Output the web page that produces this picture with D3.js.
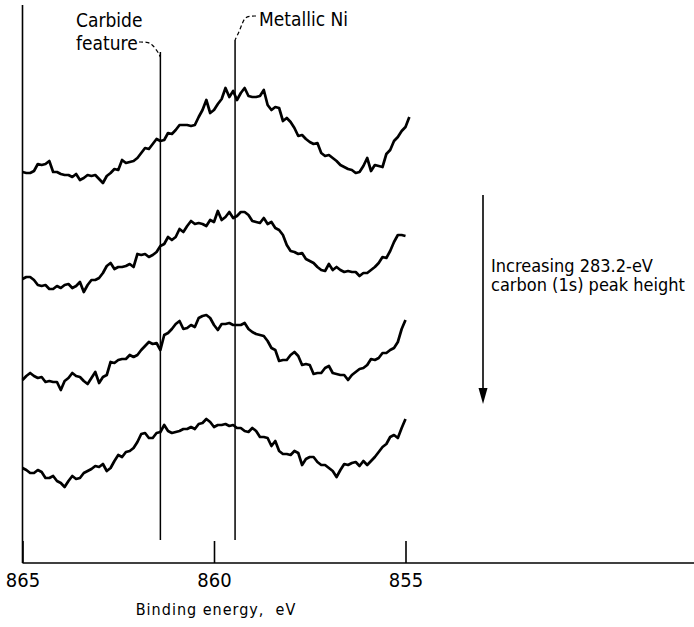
<!DOCTYPE html>
<html>
<head>
<meta charset="utf-8">
<script src="https://cdn.jsdelivr.net/npm/d3@7"></script>
<style>
body { margin: 0; background: #fff; }
text { font-family: "Liberation Sans Narrow", "DejaVu Sans Condensed", "Liberation Sans", sans-serif; fill: #000; }
</style>
</head>
<body>
<script>
//place script in anon function
(function(){

// binding energy of each scan channel (eV)
var energy = [865.0,864.9,864.8,864.7,864.6,864.5,864.4,864.3,864.2,864.1,
    864.0,863.9,863.8,863.7,863.6,863.5,863.4,863.3,863.2,863.1,
    863.0,862.9,862.8,862.7,862.6,862.5,862.4,862.3,862.2,862.1,
    862.0,861.9,861.8,861.7,861.6,861.5,861.4,861.3,861.2,861.1,
    861.0,860.9,860.8,860.7,860.6,860.5,860.4,860.3,860.2,860.1,
    860.0,859.9,859.8,859.7,859.6,859.5,859.4,859.3,859.2,859.1,
    859.0,858.9,858.8,858.7,858.6,858.5,858.4,858.3,858.2,858.1,
    858.0,857.9,857.8,857.7,857.6,857.5,857.4,857.3,857.2,857.1,
    857.0,856.9,856.8,856.7,856.6,856.5,856.4,856.3,856.2,856.1,
    856.0,855.9,855.8,855.7,855.6,855.5,855.4,855.3,855.2,855.1,
    855.0,854.9];

// intensity (arb. units, offset spectra), top to bottom
var spectrum1 = [391,390,390,392,399,398,399,402,391,391,
    389,388,388,386,389,383,385,388,387,388,
    384,380,387,390,394,393,403,400,401,402,
    405,410,415,414,419,424,422,423,430,429,
    433,438,438,438,437,438,446,453,463,450,
    453,459,464,475,466,472,463,470,475,467,
    466,466,467,473,458,453,456,455,442,445,
    441,435,427,428,424,421,419,420,410,407,
    408,405,402,398,396,394,393,390,391,397,
    405,392,398,397,396,409,413,422,426,432,
    436,446];
var spectrum2 = [284,286,286,283,278,277,278,274,274,277,
    275,278,279,275,277,281,271,278,283,283,
    285,290,297,300,294,296,296,297,299,296,
    309,308,309,306,308,311,317,319,326,323,
    326,334,331,337,342,339,340,339,337,343,
    341,352,343,346,351,345,347,351,351,348,
    342,341,340,345,339,341,335,333,328,318,
    312,311,309,310,304,302,300,296,293,292,
    299,293,296,293,291,292,291,291,287,290,
    290,293,296,300,306,305,312,321,328,328,
    327];
var spectrum3 = [183,187,190,187,185,186,181,182,181,181,
    173,182,185,190,187,186,182,179,185,191,
    180,186,188,201,200,203,204,204,208,206,
    208,213,217,221,219,220,213,228,230,234,
    239,242,234,235,238,236,245,247,248,245,
    238,233,239,239,240,238,238,238,240,234,
    231,229,228,227,222,215,213,202,203,203,
    208,211,207,198,199,198,189,190,190,195,
    197,190,189,188,188,183,188,191,194,195,
    198,204,203,205,210,210,213,215,221,234,
    243];
var spectrum4 = [95,93,90,90,93,91,85,85,87,82,
    80,76,82,87,84,85,90,92,94,97,
    96,99,92,95,102,108,106,111,112,115,
    121,129,130,125,125,130,131,138,132,130,
    131,132,134,134,136,134,139,140,144,141,
    136,138,138,139,137,138,135,135,132,131,
    135,132,126,126,125,117,122,112,109,109,
    108,112,110,98,104,106,106,101,98,98,
    95,92,86,93,99,98,100,101,97,102,
    98,102,106,111,116,119,126,128,125,135,
    144];
var spectra = [spectrum1, spectrum2, spectrum3, spectrum4];

// reference lines
var markerEnergy = [861.4, 859.45];
var markerLabels = [["Carbide", "feature"], ["Metallic Ni"]];

// axis
var tickValues = [865, 860, 855];
var axisTitle = "Binding energy,  eV";
var arrowLabel = ["Increasing 283.2-eV", "carbon (1s) peak height"];

// frame dimensions
var width = 694,
    height = 627,
    axisY = 563,
    axisTop = 5;

var svg = d3.select("body")
    .append("svg")
    .attr("width", width)
    .attr("height", height);

// scales
var x = d3.scaleLinear()
    .domain([865, 855])
    .range([22.5, 405.5]);

var y = d3.scaleLinear()
    .domain([0, 558])
    .range([axisY, axisTop]);

// bottom axis with upward ticks
var xAxis = d3.axisBottom(x)
    .tickValues(tickValues)
    .tickFormat(d3.format("d"))
    .tickSizeInner(-22)
    .tickSizeOuter(0)
    .tickPadding(10);

var axisG = svg.append("g")
    .attr("class", "axis")
    .attr("transform", "translate(0," + axisY + ")")
    .call(xAxis);

axisG.select(".domain").remove();
axisG.selectAll("line")
    .attr("stroke", "#000")
    .attr("stroke-width", 1.6);
axisG.selectAll("text")
    .attr("fill", "#000")
    .style("font-size", "20px");

// baseline runs to the right edge
svg.append("line")
    .attr("x1", x(865))
    .attr("x2", width)
    .attr("y1", axisY)
    .attr("y2", axisY)
    .attr("stroke", "#000")
    .attr("stroke-width", 1.6);

// left axis line
svg.append("line")
    .attr("x1", x(865))
    .attr("x2", x(865))
    .attr("y1", axisTop)
    .attr("y2", axisY)
    .attr("stroke", "#000")
    .attr("stroke-width", 1.6);

// axis title
svg.append("text")
    .attr("x", x(860) + 2)
    .attr("y", 615)
    .attr("text-anchor", "middle")
    .style("font-size", "16px")
    .style("letter-spacing", "1px")
    .style("white-space", "pre")
    .text(axisTitle);

// marker lines
var markerTop = [52, 40];
svg.selectAll(".marker")
    .data(markerEnergy)
    .enter()
    .append("line")
    .attr("class", "marker")
    .attr("x1", function(d){ return x(d); })
    .attr("x2", function(d){ return x(d); })
    .attr("y1", function(d, i){ return markerTop[i]; })
    .attr("y2", 540)
    .attr("stroke", "#000")
    .attr("stroke-width", 1.5);

// spectra
var line = d3.line()
    .x(function(d, i){ return x(energy[i]); })
    .y(function(d){ return y(d); });

svg.selectAll(".spectrum")
    .data(spectra)
    .enter()
    .append("path")
    .attr("class", "spectrum")
    .attr("d", line)
    .attr("fill", "none")
    .attr("stroke", "#000")
    .attr("stroke-width", 2.7)
    .attr("stroke-linejoin", "round");

// labels for marker lines
svg.append("text")
    .attr("x", 76)
    .attr("y", 27)
    .style("font-size", "19px")
    .text(markerLabels[0][0]);
svg.append("text")
    .attr("x", 76)
    .attr("y", 50)
    .style("font-size", "19px")
    .text(markerLabels[0][1]);
svg.append("text")
    .attr("x", 259)
    .attr("y", 26)
    .style("font-size", "19px")
    .text(markerLabels[1][0]);

// dashed leaders
var leader = d3.line().curve(d3.curveBasis);
svg.append("path")
    .attr("d", leader([[139, 42], [147, 42], [152, 44], [158, 52], [x(markerEnergy[0]), 57]]))
    .attr("fill", "none")
    .attr("stroke", "#000")
    .attr("stroke-width", 1.2)
    .attr("stroke-dasharray", "4,2.5");
svg.append("path")
    .attr("d", leader([[256, 16], [249, 16], [244, 18], [240, 30], [x(markerEnergy[1]), 40]]))
    .attr("fill", "none")
    .attr("stroke", "#000")
    .attr("stroke-width", 1.2)
    .attr("stroke-dasharray", "4,2.5");

// downward arrow
svg.append("line")
    .attr("x1", 483)
    .attr("x2", 483)
    .attr("y1", 195)
    .attr("y2", 392)
    .attr("stroke", "#000")
    .attr("stroke-width", 1.6);
svg.append("path")
    .attr("d", "M478.5,388L487.5,388L483,404Z")
    .attr("fill", "#000");

svg.selectAll(".arrowLabel")
    .data(arrowLabel)
    .enter()
    .append("text")
    .attr("class", "arrowLabel")
    .attr("x", 491)
    .attr("y", function(d, i){ return 272 + i * 19; })
    .style("font-size", "18px")
    .text(function(d){ return d; });

})();
</script>
</body>
</html>
